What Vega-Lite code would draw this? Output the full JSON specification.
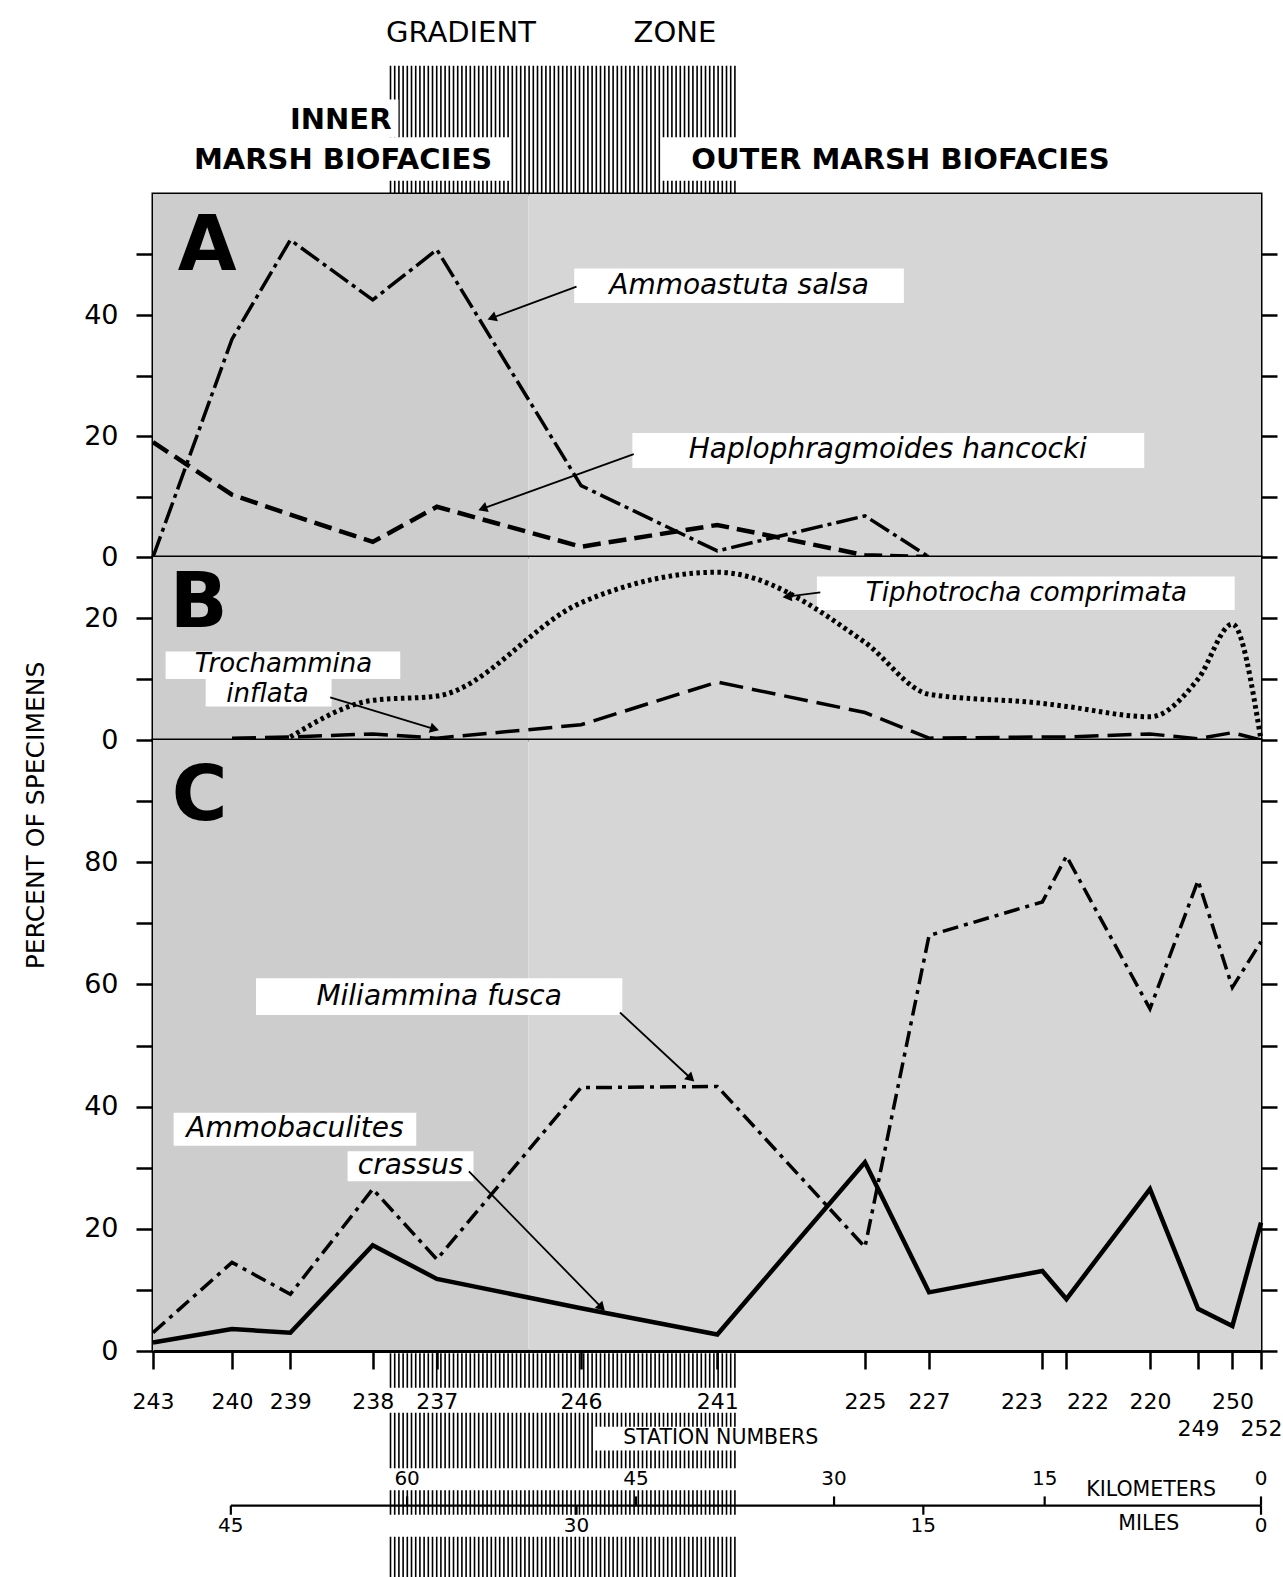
{
  "$schema": "https://vega.github.io/schema/vega-lite/v6.json",
  "background": "white",
  "padding": {"left": 21, "top": 17, "right": 0, "bottom": 0},
  "spacing": 0,
  "bounds": "flush",
  "resolve": {"scale": {"x": "independent", "y": "independent"}},
  "config": {
    "view": {"stroke": "black", "strokeWidth": 3},
    "axis": {"labelFont": "DejaVu Sans", "titleFont": "DejaVu Sans"},
    "text": {"font": "DejaVu Sans", "color": "black"}
  },
  "datasets": {
    "counts": [
      {"panel": "A", "species": "Ammoastuta salsa", "station": "243", "mi": 48.4, "v": 0},
      {"panel": "A", "species": "Ammoastuta salsa", "station": "240", "mi": 44.95, "v": 36},
      {"panel": "A", "species": "Ammoastuta salsa", "station": "239", "mi": 42.4, "v": 52.4},
      {"panel": "A", "species": "Ammoastuta salsa", "station": "238", "mi": 38.8, "v": 42.5},
      {"panel": "A", "species": "Ammoastuta salsa", "station": "237", "mi": 36.0, "v": 50.8},
      {"panel": "A", "species": "Ammoastuta salsa", "station": "246", "mi": 29.7, "v": 11.8},
      {"panel": "A", "species": "Ammoastuta salsa", "station": "241", "mi": 23.75, "v": 1},
      {"panel": "A", "species": "Ammoastuta salsa", "station": "225", "mi": 17.3, "v": 6.8},
      {"panel": "A", "species": "Ammoastuta salsa", "station": "227", "mi": 14.5, "v": 0},
      {"panel": "A", "species": "Haplophragmoides hancocki", "station": "243", "mi": 48.4, "v": 19},
      {"panel": "A", "species": "Haplophragmoides hancocki", "station": "240", "mi": 44.95, "v": 10.3},
      {"panel": "A", "species": "Haplophragmoides hancocki", "station": "239", "mi": 42.4, "v": 7},
      {"panel": "A", "species": "Haplophragmoides hancocki", "station": "238", "mi": 38.8, "v": 2.5},
      {"panel": "A", "species": "Haplophragmoides hancocki", "station": "237", "mi": 36.0, "v": 8.3},
      {"panel": "A", "species": "Haplophragmoides hancocki", "station": "246", "mi": 29.7, "v": 1.7},
      {"panel": "A", "species": "Haplophragmoides hancocki", "station": "241", "mi": 23.75, "v": 5.3},
      {"panel": "A", "species": "Haplophragmoides hancocki", "station": "225", "mi": 17.3, "v": 0.3},
      {"panel": "A", "species": "Haplophragmoides hancocki", "station": "227", "mi": 14.5, "v": 0},
      {"panel": "B", "species": "Tiphotrocha comprimata", "station": "239", "mi": 42.4, "v": 0.5},
      {"panel": "B", "species": "Tiphotrocha comprimata", "station": "238", "mi": 38.8, "v": 6.5},
      {"panel": "B", "species": "Tiphotrocha comprimata", "station": "237", "mi": 36.0, "v": 7.2},
      {"panel": "B", "species": "Tiphotrocha comprimata", "station": "246", "mi": 29.7, "v": 22.5},
      {"panel": "B", "species": "Tiphotrocha comprimata", "station": "241", "mi": 23.75, "v": 27.5},
      {"panel": "B", "species": "Tiphotrocha comprimata", "station": "225", "mi": 17.3, "v": 16},
      {"panel": "B", "species": "Tiphotrocha comprimata", "station": "227", "mi": 14.5, "v": 7.5},
      {"panel": "B", "species": "Tiphotrocha comprimata", "station": "223", "mi": 9.55, "v": 6},
      {"panel": "B", "species": "Tiphotrocha comprimata", "station": "222", "mi": 8.5, "v": 5.5},
      {"panel": "B", "species": "Tiphotrocha comprimata", "station": "220", "mi": 4.85, "v": 3.8},
      {"panel": "B", "species": "Tiphotrocha comprimata", "station": "249", "mi": 2.75, "v": 10},
      {"panel": "B", "species": "Tiphotrocha comprimata", "station": "250", "mi": 1.25, "v": 19},
      {"panel": "B", "species": "Tiphotrocha comprimata", "station": "252", "mi": 0, "v": 0},
      {"panel": "B", "species": "Trochammina inflata", "station": "240", "mi": 44.95, "v": 0.3},
      {"panel": "B", "species": "Trochammina inflata", "station": "239", "mi": 42.4, "v": 0.5},
      {"panel": "B", "species": "Trochammina inflata", "station": "238", "mi": 38.8, "v": 1},
      {"panel": "B", "species": "Trochammina inflata", "station": "237", "mi": 36.0, "v": 0.3},
      {"panel": "B", "species": "Trochammina inflata", "station": "246", "mi": 29.7, "v": 2.5},
      {"panel": "B", "species": "Trochammina inflata", "station": "241", "mi": 23.75, "v": 9.5},
      {"panel": "B", "species": "Trochammina inflata", "station": "225", "mi": 17.3, "v": 4.5},
      {"panel": "B", "species": "Trochammina inflata", "station": "227", "mi": 14.5, "v": 0.3},
      {"panel": "B", "species": "Trochammina inflata", "station": "223", "mi": 9.55, "v": 0.5},
      {"panel": "B", "species": "Trochammina inflata", "station": "222", "mi": 8.5, "v": 0.5},
      {"panel": "B", "species": "Trochammina inflata", "station": "220", "mi": 4.85, "v": 1},
      {"panel": "B", "species": "Trochammina inflata", "station": "249", "mi": 2.75, "v": 0.2},
      {"panel": "B", "species": "Trochammina inflata", "station": "250", "mi": 1.25, "v": 1.2},
      {"panel": "B", "species": "Trochammina inflata", "station": "252", "mi": 0, "v": 0},
      {"panel": "C", "species": "Ammobaculites crassus", "station": "243", "mi": 48.4, "v": 1.4},
      {"panel": "C", "species": "Ammobaculites crassus", "station": "240", "mi": 44.95, "v": 3.6},
      {"panel": "C", "species": "Ammobaculites crassus", "station": "239", "mi": 42.4, "v": 3},
      {"panel": "C", "species": "Ammobaculites crassus", "station": "238", "mi": 38.8, "v": 17.3},
      {"panel": "C", "species": "Ammobaculites crassus", "station": "237", "mi": 36.0, "v": 11.8},
      {"panel": "C", "species": "Ammobaculites crassus", "station": "246", "mi": 29.7, "v": 7},
      {"panel": "C", "species": "Ammobaculites crassus", "station": "241", "mi": 23.75, "v": 2.7},
      {"panel": "C", "species": "Ammobaculites crassus", "station": "225", "mi": 17.3, "v": 30.9},
      {"panel": "C", "species": "Ammobaculites crassus", "station": "227", "mi": 14.5, "v": 9.6},
      {"panel": "C", "species": "Ammobaculites crassus", "station": "223", "mi": 9.55, "v": 13.1},
      {"panel": "C", "species": "Ammobaculites crassus", "station": "222", "mi": 8.5, "v": 8.5},
      {"panel": "C", "species": "Ammobaculites crassus", "station": "220", "mi": 4.85, "v": 26.5},
      {"panel": "C", "species": "Ammobaculites crassus", "station": "249", "mi": 2.75, "v": 6.9},
      {"panel": "C", "species": "Ammobaculites crassus", "station": "250", "mi": 1.25, "v": 4.1},
      {"panel": "C", "species": "Ammobaculites crassus", "station": "252", "mi": 0, "v": 21},
      {"panel": "C", "species": "Miliammina fusca", "station": "243", "mi": 48.4, "v": 3},
      {"panel": "C", "species": "Miliammina fusca", "station": "240", "mi": 44.95, "v": 14.5},
      {"panel": "C", "species": "Miliammina fusca", "station": "239", "mi": 42.4, "v": 9.3},
      {"panel": "C", "species": "Miliammina fusca", "station": "238", "mi": 38.8, "v": 26.5},
      {"panel": "C", "species": "Miliammina fusca", "station": "237", "mi": 36.0, "v": 15},
      {"panel": "C", "species": "Miliammina fusca", "station": "246", "mi": 29.7, "v": 43.1},
      {"panel": "C", "species": "Miliammina fusca", "station": "241", "mi": 23.75, "v": 43.3},
      {"panel": "C", "species": "Miliammina fusca", "station": "225", "mi": 17.3, "v": 17},
      {"panel": "C", "species": "Miliammina fusca", "station": "227", "mi": 14.5, "v": 68},
      {"panel": "C", "species": "Miliammina fusca", "station": "223", "mi": 9.55, "v": 73.5},
      {"panel": "C", "species": "Miliammina fusca", "station": "222", "mi": 8.5, "v": 81},
      {"panel": "C", "species": "Miliammina fusca", "station": "220", "mi": 4.85, "v": 56},
      {"panel": "C", "species": "Miliammina fusca", "station": "249", "mi": 2.75, "v": 77},
      {"panel": "C", "species": "Miliammina fusca", "station": "250", "mi": 1.25, "v": 59.5},
      {"panel": "C", "species": "Miliammina fusca", "station": "252", "mi": 0, "v": 67}
    ],
    "zones": [
      {"zone": "inner", "mi": 48.4, "mi2": 32.0},
      {"zone": "outer", "mi": 32.0, "mi2": 0}
    ],
    "gradient": [{"zone": "gradient", "mi": 38.06, "mi2": 22.88}],
    "scalebar": [{"mi": 45, "mi2": 0}],
    "scale": [
      {"unit": "km", "label": "60", "mi": 37.3},
      {"unit": "km", "label": "45", "mi": 27.3},
      {"unit": "km", "label": "30", "mi": 18.65},
      {"unit": "km", "label": "15", "mi": 9.45},
      {"unit": "km", "label": "0", "mi": 0},
      {"unit": "mi", "label": "45", "mi": 45},
      {"unit": "mi", "label": "30", "mi": 29.9},
      {"unit": "mi", "label": "15", "mi": 14.75},
      {"unit": "mi", "label": "0", "mi": 0}
    ],
    "boxes": [
      {"panel": "A", "mi": 42.6, "mi2": 37.68, "v": 75.6, "v2": 69.4},
      {"panel": "A", "mi": 47.5, "mi2": 32.84, "v": 69.4, "v2": 62.2},
      {"panel": "A", "mi": 26.2, "mi2": 5.2, "v": 69.4, "v2": 62.2},
      {"panel": "A", "mi": 30.0, "mi2": 15.6, "v": 47.7, "v2": 42.0},
      {"panel": "A", "mi": 27.46, "mi2": 5.1, "v": 20.5, "v2": 14.7},
      {"panel": "B", "mi": 19.4, "mi2": 1.15, "v": 26.8, "v2": 21.3},
      {"panel": "B", "mi": 47.85, "mi2": 37.6, "v": 14.5, "v2": 10.0},
      {"panel": "B", "mi": 46.1, "mi2": 40.6, "v": 10.0, "v2": 5.5},
      {"panel": "C", "mi": 43.9, "mi2": 27.9, "v": 61.0, "v2": 55.0},
      {"panel": "C", "mi": 47.5, "mi2": 36.9, "v": 39.0, "v2": 33.6},
      {"panel": "C", "mi": 39.9, "mi2": 34.4, "v": 32.7, "v2": 27.8},
      {"panel": "C", "mi": 38.3, "mi2": 22.6, "v": -6.0, "v2": -10.1},
      {"panel": "C", "mi": 29.1, "mi2": 18.1, "v": -12.4, "v2": -16.3},
      {"panel": "C", "mi": 38.3, "mi2": 22.6, "v": -19.2, "v2": -22.8},
      {"panel": "C", "mi": 38.3, "mi2": 22.6, "v": -26.8, "v2": -30.4}
    ],
    "texts": [
      {"panel": "A", "kind": "title", "text": "GRADIENT", "mi": 34.95, "v": 86.6},
      {"panel": "A", "kind": "title", "text": "ZONE", "mi": 25.6, "v": 86.6},
      {"panel": "A", "kind": "heading", "text": "INNER", "mi": 40.2, "v": 72.2},
      {"panel": "A", "kind": "heading", "text": "MARSH BIOFACIES", "mi": 40.1, "v": 65.7},
      {"panel": "A", "kind": "heading", "text": "OUTER MARSH BIOFACIES", "mi": 15.75, "v": 65.7},
      {"panel": "A", "kind": "letter", "text": "A", "mi": 46.03, "v": 51.3},
      {"panel": "A", "kind": "species", "text": "Ammoastuta salsa", "mi": 22.8, "v": 44.8},
      {"panel": "A", "kind": "species", "text": "Haplophragmoides hancocki", "mi": 16.3, "v": 17.7},
      {"panel": "B", "kind": "letter", "text": "B", "mi": 46.4, "v": 22.3},
      {"panel": "B", "kind": "species", "text": "Tiphotrocha comprimata", "mi": 10.25, "v": 24.1},
      {"panel": "B", "kind": "species", "text": "Trochammina", "mi": 42.7, "v": 12.5},
      {"panel": "B", "kind": "species", "text": "inflata", "mi": 43.4, "v": 7.6},
      {"panel": "C", "kind": "letter", "text": "C", "mi": 46.36, "v": 90.7},
      {"panel": "C", "kind": "species", "text": "Miliammina fusca", "mi": 35.9, "v": 58.0},
      {"panel": "C", "kind": "species", "text": "Ammobaculites", "mi": 42.2, "v": 36.3},
      {"panel": "C", "kind": "species", "text": "crassus", "mi": 37.15, "v": 30.2},
      {"panel": "C", "kind": "footer", "text": "STATION NUMBERS", "mi": 23.6, "v": -14.3},
      {"panel": "C", "kind": "footer", "text": "KILOMETERS", "mi": 4.8, "v": -22.7},
      {"panel": "C", "kind": "footer", "text": "MILES", "mi": 4.9, "v": -28.3}
    ],
    "arrows": [
      {"id": "A1", "panel": "A", "mi": 29.9, "v": 44.7, "mi2": 33.6, "v2": 39.5},
      {"id": "A2", "panel": "A", "mi": 27.4, "v": 17.0, "mi2": 34.0, "v2": 8.0},
      {"id": "B1", "panel": "B", "mi": 19.25, "v": 24.2, "mi2": 20.7, "v2": 23.5},
      {"id": "B2", "panel": "B", "mi": 40.66, "v": 7.0, "mi2": 36.1, "v2": 1.8},
      {"id": "C1", "panel": "C", "mi": 28.0, "v": 55.4, "mi2": 24.9, "v2": 44.6},
      {"id": "C2", "panel": "C", "mi": 34.6, "v": 29.4, "mi2": 28.8, "v2": 7.1}
    ]
  },
  "vconcat": [
    {
      "width": 1108,
      "height": 363,
      "resolve": {"axis": {"y": "independent"}},
      "layer": [
        {"data": {"name": "zones"}, "transform": [{"filter": "datum.zone == 'inner'"}], "mark": {"type": "rect", "fill": "#cdcdcd"},
          "encoding": {"x": {"field": "mi", "type": "quantitative", "scale": {"domain": [48.4, 0], "nice": false, "zero": false}, "axis": null}, "x2": {"field": "mi2"},
            "y": {"datum": 0, "type": "quantitative", "scale": {"domain": [0, 60], "nice": false, "zero": false}, "axis": null}, "y2": {"datum": 60}}},
        {"data": {"name": "zones"}, "transform": [{"filter": "datum.zone == 'outer'"}], "mark": {"type": "rect", "fill": "#d6d6d6"},
          "encoding": {"x": {"field": "mi", "type": "quantitative", "scale": {"domain": [48.4, 0], "nice": false, "zero": false}, "axis": null}, "x2": {"field": "mi2"},
            "y": {"datum": 0, "type": "quantitative", "scale": {"domain": [0, 60], "nice": false, "zero": false}, "axis": null}, "y2": {"datum": 60}}},
        {"data": {"name": "gradient"}, "mark": {"type": "rule", "color": "black", "strokeWidth": 128, "strokeDash": [1.6, 2.6]},
          "encoding": {"x": {"field": "mi", "type": "quantitative", "scale": {"domain": [48.4, 0], "nice": false, "zero": false}, "axis": null}, "x2": {"field": "mi2"},
            "y": {"datum": 70.6, "type": "quantitative", "scale": {"domain": [0, 60], "nice": false, "zero": false}, "axis": null}}},
        {"data": {"name": "boxes"}, "transform": [{"filter": "datum.panel == 'A'"}], "mark": {"type": "rect", "fill": "white"},
          "encoding": {"x": {"field": "mi", "type": "quantitative", "scale": {"domain": [48.4, 0], "nice": false, "zero": false}, "axis": null}, "x2": {"field": "mi2"},
            "y": {"field": "v", "type": "quantitative", "scale": {"domain": [0, 60], "nice": false, "zero": false}, "axis": null}, "y2": {"field": "v2"}}},
        {"data": {"name": "counts"}, "transform": [{"filter": "datum.species == 'Ammoastuta salsa'"}], "mark": {"type": "line", "color": "black", "strokeWidth": 3.5, "strokeDash": [22, 5, 4, 5]},
          "encoding": {"x": {"field": "mi", "type": "quantitative", "scale": {"domain": [48.4, 0], "nice": false, "zero": false}, "axis": null},
            "y": {"field": "v", "type": "quantitative", "scale": {"domain": [0, 60], "nice": false, "zero": false},
            "axis": {"orient": "left", "values": [0, 10, 20, 30, 40, 50], "labelExpr": "datum.value % 20 == 0 ? datum.label : ''", "title": null, "domain": false, "grid": false, "tickSize": 17, "tickWidth": 2.5, "tickColor": "black", "labelFontSize": 27, "labelColor": "black", "labelPadding": 18, "labelOverlap": false, "labelBound": false, "labelFlush": false}}}},
        {"data": {"name": "counts"}, "transform": [{"filter": "datum.species == 'Haplophragmoides hancocki'"}], "mark": {"type": "line", "color": "black", "strokeWidth": 4.5, "strokeDash": [18, 8]},
          "encoding": {"x": {"field": "mi", "type": "quantitative", "scale": {"domain": [48.4, 0], "nice": false, "zero": false}, "axis": null},
            "y": {"field": "v", "type": "quantitative", "scale": {"domain": [0, 60], "nice": false, "zero": false},
            "axis": {"orient": "right", "values": [0, 10, 20, 30, 40, 50], "labels": false, "title": null, "domain": false, "grid": false, "tickSize": 16, "tickWidth": 2.5, "tickColor": "black"}}}},
        {"data": {"name": "texts"}, "transform": [{"filter": "datum.panel == 'A' && datum.kind == 'title'"}], "mark": {"type": "text", "fontSize": 29, "align": "center", "baseline": "middle"},
          "encoding": {"x": {"field": "mi", "type": "quantitative", "scale": {"domain": [48.4, 0], "nice": false, "zero": false}, "axis": null}, "y": {"field": "v", "type": "quantitative", "scale": {"domain": [0, 60], "nice": false, "zero": false}, "axis": null}, "text": {"field": "text"}}},
        {"data": {"name": "texts"}, "transform": [{"filter": "datum.panel == 'A' && datum.kind == 'heading'"}], "mark": {"type": "text", "fontSize": 29, "fontWeight": "bold", "align": "center", "baseline": "middle"},
          "encoding": {"x": {"field": "mi", "type": "quantitative", "scale": {"domain": [48.4, 0], "nice": false, "zero": false}, "axis": null}, "y": {"field": "v", "type": "quantitative", "scale": {"domain": [0, 60], "nice": false, "zero": false}, "axis": null}, "text": {"field": "text"}}},
        {"data": {"name": "texts"}, "transform": [{"filter": "datum.panel == 'A' && datum.kind == 'letter'"}], "mark": {"type": "text", "fontSize": 76, "fontWeight": "bold", "align": "center", "baseline": "middle"},
          "encoding": {"x": {"field": "mi", "type": "quantitative", "scale": {"domain": [48.4, 0], "nice": false, "zero": false}, "axis": null}, "y": {"field": "v", "type": "quantitative", "scale": {"domain": [0, 60], "nice": false, "zero": false}, "axis": null}, "text": {"field": "text"}}},
        {"data": {"name": "texts"}, "transform": [{"filter": "datum.panel == 'A' && datum.kind == 'species'"}], "mark": {"type": "text", "fontSize": 28, "fontStyle": "italic", "align": "center", "baseline": "middle"},
          "encoding": {"x": {"field": "mi", "type": "quantitative", "scale": {"domain": [48.4, 0], "nice": false, "zero": false}, "axis": null}, "y": {"field": "v", "type": "quantitative", "scale": {"domain": [0, 60], "nice": false, "zero": false}, "axis": null}, "text": {"field": "text"}}},
        {"data": {"name": "arrows"}, "transform": [{"filter": "datum.panel == 'A'"}], "mark": {"type": "rule", "color": "black", "strokeWidth": 1.8},
          "encoding": {"x": {"field": "mi", "type": "quantitative", "scale": {"domain": [48.4, 0], "nice": false, "zero": false}, "axis": null}, "x2": {"field": "mi2"},
            "y": {"field": "v", "type": "quantitative", "scale": {"domain": [0, 60], "nice": false, "zero": false}, "axis": null}, "y2": {"field": "v2"}}},
        {"data": {"name": "arrows"}, "transform": [{"filter": "datum.id == 'A1'"}], "mark": {"type": "point", "shape": "triangle-up", "angle": 249.6, "filled": true, "size": 110, "color": "black", "opacity": 1},
          "encoding": {"x": {"field": "mi2", "type": "quantitative", "scale": {"domain": [48.4, 0], "nice": false, "zero": false}, "axis": null}, "y": {"field": "v2", "type": "quantitative", "scale": {"domain": [0, 60], "nice": false, "zero": false}, "axis": null}}},
        {"data": {"name": "arrows"}, "transform": [{"filter": "datum.id == 'A2'"}], "mark": {"type": "point", "shape": "triangle-up", "angle": 250.1, "filled": true, "size": 110, "color": "black", "opacity": 1},
          "encoding": {"x": {"field": "mi2", "type": "quantitative", "scale": {"domain": [48.4, 0], "nice": false, "zero": false}, "axis": null}, "y": {"field": "v2", "type": "quantitative", "scale": {"domain": [0, 60], "nice": false, "zero": false}, "axis": null}}}
      ]
    },
    {
      "width": 1108,
      "height": 183,
      "resolve": {"axis": {"y": "independent"}},
      "layer": [
        {"data": {"name": "zones"}, "transform": [{"filter": "datum.zone == 'inner'"}], "mark": {"type": "rect", "fill": "#cdcdcd"},
          "encoding": {"x": {"field": "mi", "type": "quantitative", "scale": {"domain": [48.4, 0], "nice": false, "zero": false}, "axis": null}, "x2": {"field": "mi2"},
            "y": {"datum": 0, "type": "quantitative", "scale": {"domain": [0, 30], "nice": false, "zero": false}, "axis": null}, "y2": {"datum": 30}}},
        {"data": {"name": "zones"}, "transform": [{"filter": "datum.zone == 'outer'"}], "mark": {"type": "rect", "fill": "#d6d6d6"},
          "encoding": {"x": {"field": "mi", "type": "quantitative", "scale": {"domain": [48.4, 0], "nice": false, "zero": false}, "axis": null}, "x2": {"field": "mi2"},
            "y": {"datum": 0, "type": "quantitative", "scale": {"domain": [0, 30], "nice": false, "zero": false}, "axis": null}, "y2": {"datum": 30}}},
        {"data": {"name": "boxes"}, "transform": [{"filter": "datum.panel == 'B'"}], "mark": {"type": "rect", "fill": "white"},
          "encoding": {"x": {"field": "mi", "type": "quantitative", "scale": {"domain": [48.4, 0], "nice": false, "zero": false}, "axis": null}, "x2": {"field": "mi2"},
            "y": {"field": "v", "type": "quantitative", "scale": {"domain": [0, 30], "nice": false, "zero": false}, "axis": null}, "y2": {"field": "v2"}}},
        {"data": {"name": "counts"}, "transform": [{"filter": "datum.species == 'Trochammina inflata'"}], "mark": {"type": "line", "color": "black", "strokeWidth": 3.5, "strokeDash": [24, 9]},
          "encoding": {"x": {"field": "mi", "type": "quantitative", "scale": {"domain": [48.4, 0], "nice": false, "zero": false}, "axis": null},
            "y": {"field": "v", "type": "quantitative", "scale": {"domain": [0, 30], "nice": false, "zero": false},
            "axis": {"orient": "left", "values": [0, 10, 20], "labelExpr": "datum.value % 20 == 0 ? datum.label : ''", "title": null, "domain": false, "grid": false, "tickSize": 17, "tickWidth": 2.5, "tickColor": "black", "labelFontSize": 27, "labelColor": "black", "labelPadding": 18, "labelOverlap": false, "labelBound": false, "labelFlush": false}}}},
        {"data": {"name": "counts"}, "transform": [{"filter": "datum.species == 'Tiphotrocha comprimata'"}], "mark": {"type": "line", "color": "black", "strokeWidth": 5, "strokeDash": [3.5, 3.5], "interpolate": "monotone"},
          "encoding": {"x": {"field": "mi", "type": "quantitative", "scale": {"domain": [48.4, 0], "nice": false, "zero": false}, "axis": null},
            "y": {"field": "v", "type": "quantitative", "scale": {"domain": [0, 30], "nice": false, "zero": false},
            "axis": {"orient": "right", "values": [0, 10, 20], "labels": false, "title": null, "domain": false, "grid": false, "tickSize": 16, "tickWidth": 2.5, "tickColor": "black"}}}},
        {"data": {"name": "texts"}, "transform": [{"filter": "datum.panel == 'B' && datum.kind == 'letter'"}], "mark": {"type": "text", "fontSize": 76, "fontWeight": "bold", "align": "center", "baseline": "middle"},
          "encoding": {"x": {"field": "mi", "type": "quantitative", "scale": {"domain": [48.4, 0], "nice": false, "zero": false}, "axis": null}, "y": {"field": "v", "type": "quantitative", "scale": {"domain": [0, 30], "nice": false, "zero": false}, "axis": null}, "text": {"field": "text"}}},
        {"data": {"name": "texts"}, "transform": [{"filter": "datum.panel == 'B' && datum.kind == 'species'"}], "mark": {"type": "text", "fontSize": 26, "fontStyle": "italic", "align": "center", "baseline": "middle"},
          "encoding": {"x": {"field": "mi", "type": "quantitative", "scale": {"domain": [48.4, 0], "nice": false, "zero": false}, "axis": null}, "y": {"field": "v", "type": "quantitative", "scale": {"domain": [0, 30], "nice": false, "zero": false}, "axis": null}, "text": {"field": "text"}}},
        {"data": {"name": "arrows"}, "transform": [{"filter": "datum.panel == 'B'"}], "mark": {"type": "rule", "color": "black", "strokeWidth": 1.8},
          "encoding": {"x": {"field": "mi", "type": "quantitative", "scale": {"domain": [48.4, 0], "nice": false, "zero": false}, "axis": null}, "x2": {"field": "mi2"},
            "y": {"field": "v", "type": "quantitative", "scale": {"domain": [0, 30], "nice": false, "zero": false}, "axis": null}, "y2": {"field": "v2"}}},
        {"data": {"name": "arrows"}, "transform": [{"filter": "datum.id == 'B1'"}], "mark": {"type": "point", "shape": "triangle-up", "angle": 262.6, "filled": true, "size": 110, "color": "black", "opacity": 1},
          "encoding": {"x": {"field": "mi2", "type": "quantitative", "scale": {"domain": [48.4, 0], "nice": false, "zero": false}, "axis": null}, "y": {"field": "v2", "type": "quantitative", "scale": {"domain": [0, 30], "nice": false, "zero": false}, "axis": null}}},
        {"data": {"name": "arrows"}, "transform": [{"filter": "datum.id == 'B2'"}], "mark": {"type": "point", "shape": "triangle-up", "angle": 106.9, "filled": true, "size": 110, "color": "black", "opacity": 1},
          "encoding": {"x": {"field": "mi2", "type": "quantitative", "scale": {"domain": [48.4, 0], "nice": false, "zero": false}, "axis": null}, "y": {"field": "v2", "type": "quantitative", "scale": {"domain": [0, 30], "nice": false, "zero": false}, "axis": null}}}
      ]
    },
    {
      "width": 1108,
      "height": 611,
      "resolve": {"axis": {"x": "independent", "y": "independent"}},
      "layer": [
        {"data": {"name": "zones"}, "transform": [{"filter": "datum.zone == 'inner'"}], "mark": {"type": "rect", "fill": "#cdcdcd"},
          "encoding": {"x": {"field": "mi", "type": "quantitative", "scale": {"domain": [48.4, 0], "nice": false, "zero": false}, "axis": null}, "x2": {"field": "mi2"},
            "y": {"datum": 0, "type": "quantitative", "scale": {"domain": [0, 100], "nice": false, "zero": false}, "axis": null}, "y2": {"datum": 100}}},
        {"data": {"name": "zones"}, "transform": [{"filter": "datum.zone == 'outer'"}], "mark": {"type": "rect", "fill": "#d6d6d6"},
          "encoding": {"x": {"field": "mi", "type": "quantitative", "scale": {"domain": [48.4, 0], "nice": false, "zero": false}, "axis": null}, "x2": {"field": "mi2"},
            "y": {"datum": 0, "type": "quantitative", "scale": {"domain": [0, 100], "nice": false, "zero": false}, "axis": null}, "y2": {"datum": 100}}},
        {"data": {"name": "gradient"}, "mark": {"type": "rule", "color": "black", "strokeWidth": 225, "strokeDash": [1.6, 2.6]},
          "encoding": {"x": {"field": "mi", "type": "quantitative", "scale": {"domain": [48.4, 0], "nice": false, "zero": false}, "axis": null}, "x2": {"field": "mi2"},
            "y": {"datum": -18.8, "type": "quantitative", "scale": {"domain": [0, 100], "nice": false, "zero": false}, "axis": null}}},
        {"data": {"name": "boxes"}, "transform": [{"filter": "datum.panel == 'C'"}], "mark": {"type": "rect", "fill": "white"},
          "encoding": {"x": {"field": "mi", "type": "quantitative", "scale": {"domain": [48.4, 0], "nice": false, "zero": false}, "axis": null}, "x2": {"field": "mi2"},
            "y": {"field": "v", "type": "quantitative", "scale": {"domain": [0, 100], "nice": false, "zero": false}, "axis": null}, "y2": {"field": "v2"}}},
        {"data": {"name": "counts"}, "transform": [{"filter": "datum.species == 'Ammobaculites crassus'"}], "mark": {"type": "line", "color": "black", "strokeWidth": 4.5},
          "encoding": {
            "x": {"field": "mi", "type": "quantitative", "scale": {"domain": [48.4, 0], "nice": false, "zero": false},
              "axis": {"orient": "bottom", "values": [48.4, 44.95, 42.4, 38.8, 36, 29.7, 23.75, 17.3, 14.5, 9.55, 8.5, 4.85, 2.75, 1.25, 0],
                "labelExpr": "datum.value == 48.4 ? '243' : datum.value == 44.95 ? '240' : datum.value == 42.4 ? '239' : datum.value == 38.8 ? '238' : datum.value == 36 ? '237' : datum.value == 29.7 ? '246' : datum.value == 23.75 ? '241' : datum.value == 17.3 ? '225' : datum.value == 14.5 ? '227' : datum.value == 9.55 ? '223' : datum.value == 8.5 ? '222' : datum.value == 4.85 ? '220' : datum.value == 2.75 ? ['', '249'] : datum.value == 1.25 ? '250' : ['', '252']",
                "labelAlign": {"condition": [{"test": "datum.value == 9.55", "value": "right"}, {"test": "datum.value == 8.5", "value": "left"}], "value": "center"},
                "labelBaseline": "top", "labelLineHeight": 27,
                "title": null, "domain": true, "domainColor": "black", "domainWidth": 3, "grid": false, "tickSize": 18, "tickWidth": 2.5, "tickColor": "black",
                "labelFontSize": 22, "labelColor": "black", "labelPadding": 22, "labelOverlap": false, "labelBound": false, "labelFlush": false, "zindex": 2}},
            "y": {"field": "v", "type": "quantitative", "scale": {"domain": [0, 100], "nice": false, "zero": false},
              "axis": {"orient": "left", "values": [0, 10, 20, 30, 40, 50, 60, 70, 80, 90], "labelExpr": "datum.value % 20 == 0 ? datum.label : ''", "domain": false, "grid": false, "tickSize": 17, "tickWidth": 2.5, "tickColor": "black", "labelFontSize": 27, "labelColor": "black", "labelPadding": 18, "labelOverlap": false, "labelBound": false, "labelFlush": false,
                "title": "PERCENT OF SPECIMENS", "titleFontSize": 25, "titleFontWeight": "normal", "titleColor": "black", "titleX": -118, "titleY": 75, "titleAngle": 270, "titleAlign": "center", "titleBaseline": "middle"}}}},
        {"data": {"name": "counts"}, "transform": [{"filter": "datum.species == 'Miliammina fusca'"}], "mark": {"type": "line", "color": "black", "strokeWidth": 3.5, "strokeDash": [16, 6, 4, 6]},
          "encoding": {"x": {"field": "mi", "type": "quantitative", "scale": {"domain": [48.4, 0], "nice": false, "zero": false}, "axis": null},
            "y": {"field": "v", "type": "quantitative", "scale": {"domain": [0, 100], "nice": false, "zero": false},
            "axis": {"orient": "right", "values": [0, 10, 20, 30, 40, 50, 60, 70, 80, 90], "labels": false, "title": null, "domain": false, "grid": false, "tickSize": 16, "tickWidth": 2.5, "tickColor": "black"}}}},
        {"data": {"name": "texts"}, "transform": [{"filter": "datum.panel == 'C' && datum.kind == 'letter'"}], "mark": {"type": "text", "fontSize": 76, "fontWeight": "bold", "align": "center", "baseline": "middle"},
          "encoding": {"x": {"field": "mi", "type": "quantitative", "scale": {"domain": [48.4, 0], "nice": false, "zero": false}, "axis": null}, "y": {"field": "v", "type": "quantitative", "scale": {"domain": [0, 100], "nice": false, "zero": false}, "axis": null}, "text": {"field": "text"}}},
        {"data": {"name": "texts"}, "transform": [{"filter": "datum.panel == 'C' && datum.kind == 'species'"}], "mark": {"type": "text", "fontSize": 28, "fontStyle": "italic", "align": "center", "baseline": "middle"},
          "encoding": {"x": {"field": "mi", "type": "quantitative", "scale": {"domain": [48.4, 0], "nice": false, "zero": false}, "axis": null}, "y": {"field": "v", "type": "quantitative", "scale": {"domain": [0, 100], "nice": false, "zero": false}, "axis": null}, "text": {"field": "text"}}},
        {"data": {"name": "texts"}, "transform": [{"filter": "datum.panel == 'C' && datum.kind == 'footer'"}], "mark": {"type": "text", "fontSize": 20.5, "align": "center", "baseline": "middle"},
          "encoding": {"x": {"field": "mi", "type": "quantitative", "scale": {"domain": [48.4, 0], "nice": false, "zero": false}, "axis": null}, "y": {"field": "v", "type": "quantitative", "scale": {"domain": [0, 100], "nice": false, "zero": false}, "axis": null}, "text": {"field": "text"}}},
        {"data": {"name": "scalebar"}, "mark": {"type": "rule", "color": "black", "strokeWidth": 2.2},
          "encoding": {"x": {"field": "mi", "type": "quantitative", "scale": {"domain": [48.4, 0], "nice": false, "zero": false}, "axis": null}, "x2": {"field": "mi2"},
            "y": {"datum": -25.3, "type": "quantitative", "scale": {"domain": [0, 100], "nice": false, "zero": false}, "axis": null}}},
        {"data": {"name": "scale"}, "transform": [{"filter": "datum.unit == 'km'"}], "mark": {"type": "rule", "color": "black", "strokeWidth": 2.2},
          "encoding": {"x": {"field": "mi", "type": "quantitative", "scale": {"domain": [48.4, 0], "nice": false, "zero": false}, "axis": null},
            "y": {"datum": -25.3, "type": "quantitative", "scale": {"domain": [0, 100], "nice": false, "zero": false}, "axis": null}, "y2": {"datum": -23.8}}},
        {"data": {"name": "scale"}, "transform": [{"filter": "datum.unit == 'mi'"}], "mark": {"type": "rule", "color": "black", "strokeWidth": 2.2},
          "encoding": {"x": {"field": "mi", "type": "quantitative", "scale": {"domain": [48.4, 0], "nice": false, "zero": false}, "axis": null},
            "y": {"datum": -25.3, "type": "quantitative", "scale": {"domain": [0, 100], "nice": false, "zero": false}, "axis": null}, "y2": {"datum": -26.8}}},
        {"data": {"name": "scale"}, "transform": [{"filter": "datum.unit == 'km'"}], "mark": {"type": "text", "fontSize": 20, "align": "center", "baseline": "middle"},
          "encoding": {"x": {"field": "mi", "type": "quantitative", "scale": {"domain": [48.4, 0], "nice": false, "zero": false}, "axis": null},
            "y": {"datum": -21.0, "type": "quantitative", "scale": {"domain": [0, 100], "nice": false, "zero": false}, "axis": null}, "text": {"field": "label"}}},
        {"data": {"name": "scale"}, "transform": [{"filter": "datum.unit == 'mi'"}], "mark": {"type": "text", "fontSize": 20, "align": "center", "baseline": "middle"},
          "encoding": {"x": {"field": "mi", "type": "quantitative", "scale": {"domain": [48.4, 0], "nice": false, "zero": false}, "axis": null},
            "y": {"datum": -28.7, "type": "quantitative", "scale": {"domain": [0, 100], "nice": false, "zero": false}, "axis": null}, "text": {"field": "label"}}},
        {"data": {"name": "arrows"}, "transform": [{"filter": "datum.panel == 'C'"}], "mark": {"type": "rule", "color": "black", "strokeWidth": 1.8},
          "encoding": {"x": {"field": "mi", "type": "quantitative", "scale": {"domain": [48.4, 0], "nice": false, "zero": false}, "axis": null}, "x2": {"field": "mi2"},
            "y": {"field": "v", "type": "quantitative", "scale": {"domain": [0, 100], "nice": false, "zero": false}, "axis": null}, "y2": {"field": "v2"}}},
        {"data": {"name": "arrows"}, "transform": [{"filter": "datum.id == 'C1'"}], "mark": {"type": "point", "shape": "triangle-up", "angle": 132.9, "filled": true, "size": 110, "color": "black", "opacity": 1},
          "encoding": {"x": {"field": "mi2", "type": "quantitative", "scale": {"domain": [48.4, 0], "nice": false, "zero": false}, "axis": null}, "y": {"field": "v2", "type": "quantitative", "scale": {"domain": [0, 100], "nice": false, "zero": false}, "axis": null}}},
        {"data": {"name": "arrows"}, "transform": [{"filter": "datum.id == 'C2'"}], "mark": {"type": "point", "shape": "triangle-up", "angle": 135.7, "filled": true, "size": 110, "color": "black", "opacity": 1},
          "encoding": {"x": {"field": "mi2", "type": "quantitative", "scale": {"domain": [48.4, 0], "nice": false, "zero": false}, "axis": null}, "y": {"field": "v2", "type": "quantitative", "scale": {"domain": [0, 100], "nice": false, "zero": false}, "axis": null}}}
      ]
    }
  ]
}
